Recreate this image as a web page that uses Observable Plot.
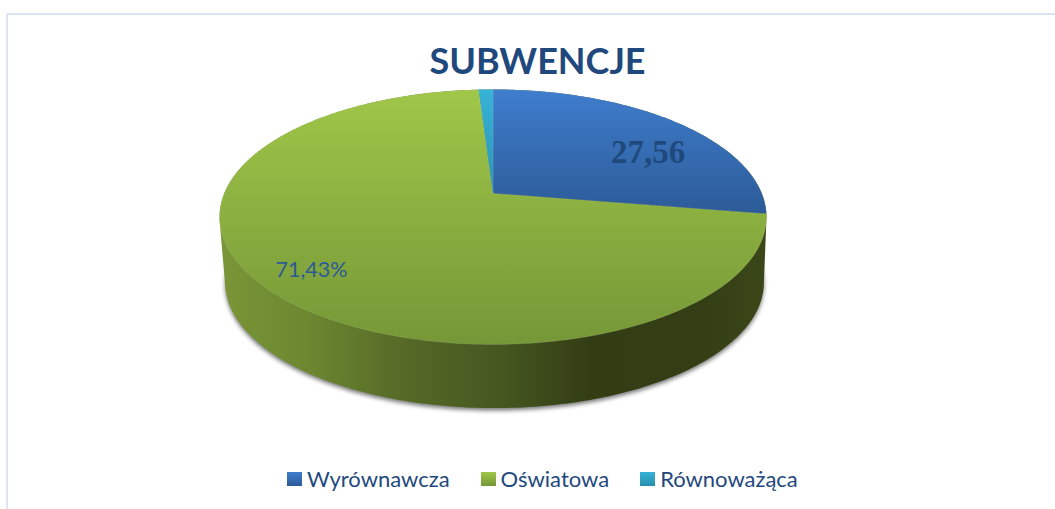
<!DOCTYPE html>
<html lang="pl">
<head>
<meta charset="utf-8">
<title>SUBWENCJE</title>
<script src="https://cdn.jsdelivr.net/npm/d3@7"></script>
<script src="https://cdn.jsdelivr.net/npm/@observablehq/plot@0.6"></script>
<style>
  html, body { margin: 0; padding: 0; background: #fff; overflow: hidden; }
  #page { position: relative; width: 1055px; height: 509px; overflow: hidden; font-family: Lato, sans-serif; color: #1f497d; }
  #frame { position: absolute; left: 6px; top: 13px; width: 1100px; height: 600px; box-sizing: border-box; border-top: 2px solid #dce6f2; border-left: 2px solid #dce6f2; }
  #title { position: relative; box-sizing: border-box; height: 83px; padding: 40px 0 0 20px; text-align: center; font-size: 36px; line-height: 40px; font-weight: 700; }
  #chart { position: relative; height: 340px; }
  #chart svg { display: block; background: transparent; overflow: visible; }
  #legend { position: relative; box-sizing: border-box; height: 86px; padding: 43px 0 0 287px; display: flex; align-items: flex-start; gap: 31px; font-size: 22px; line-height: 26px; }
  .item { display: flex; align-items: center; gap: 5px; }
  .swatch { width: 15px; height: 14px; display: inline-block; }
</style>
</head>
<body>
<div id="page">
  <div id="frame"></div>
  <div id="title"></div>
  <div id="chart"></div>
  <div id="legend"></div>
</div>
<script>
const chartTitle = "SUBWENCJE";
const categories = ["Wyrównawcza", "Oświatowa", "Równoważąca"];
const shares = [27.56, 71.43, 1.01];
const topColors = [["#3f7dcd", "#2c5b97"], ["#a0c749", "#769737"], ["#37b3d8", "#2a93b3"]];
const swatchColors = [["#3f7dcd", "#2c5b97"], ["#a0c749", "#769737"], ["#37b3d8", "#2a8fae"]];
const sideStops = [[0, "#7a9637"], [0.16, "#6c8730"], [0.33, "#566b27"], [0.52, "#45561f"], [0.68, "#323d14"], [0.88, "#333e15"], [1, "#3b4718"]];

// Perspective of the disc, in units of the pie radius
const tilt = 0.184;
const project = (deg, r = 1) => {
  const a = deg * Math.PI / 180, X = r * Math.sin(a), Y = r * Math.cos(a), w = 1 + tilt * Y;
  return {x: X / w, y: Y / w};
};
const discCentreY = -0.1907, wallCentreX = 0.0056, wallCentreY = -0.7224, wallScale = 0.985;
const lower = (p) => ({x: wallCentreX + wallScale * p.x, y: wallCentreY + wallScale * (p.y - discCentreY)});

// Slices from the shares, clockwise from twelve o'clock
let acc = 0;
const slices = shares.map((v, i) => {
  const start = acc / 100 * 360; acc += v; const end = acc / 100 * 360;
  const arc = d3.range(start, end, 1).concat(end).map((d) => project(d));
  return {category: categories[i], i, points: [{x: 0, y: 0}, ...arc, {x: 0, y: 0}]};
});
const rim = d3.range(0, 360, 1).map((d) => project(d));
const wallHull = d3.polygonHull([...rim, ...rim.map(lower)].map((p) => [p.x, p.y])).map(([x, y]) => ({x, y}));
const shadow = rim.map(lower).map((p) => ({x: p.x, y: p.y - 0.02}));

const gradDefs = () => {
  const ns = "http://www.w3.org/2000/svg";
  const defs = document.createElementNS(ns, "defs");
  const make = (id, vertical, stops) => {
    const g = document.createElementNS(ns, "linearGradient");
    g.setAttribute("id", id);
    g.setAttribute("x1", 0); g.setAttribute("y1", 0);
    g.setAttribute("x2", vertical ? 0 : 1); g.setAttribute("y2", vertical ? 1 : 0);
    stops.forEach(([o, c]) => {
      const s = document.createElementNS(ns, "stop");
      s.setAttribute("offset", o); s.setAttribute("stop-color", c);
      g.appendChild(s);
    });
    defs.appendChild(g);
  };
  topColors.forEach((c, i) => make("top" + i, true, [[0, c[0]], [1, c[1]]]));
  make("wall", false, sideStops);
  return defs;
};

const W = 1055, H = 340, unitX = 268.8, unitY = 123.2, apexX = 492.5, apexY = 110;
const sliceMarks = slices.map((s) => Plot.line(s.points, {
  x: "x", y: "y", curve: "linear", fill: `url(#top${s.i})`, stroke: "#fff", strokeOpacity: 0.12, strokeWidth: 0.8
}));

const plot = Plot.plot({
  width: W, height: H, margin: 0,
  x: {domain: [-apexX / unitX, (W - apexX) / unitX], axis: null},
  y: {domain: [(apexY - H) / unitY, apexY / unitY], axis: null},
  marks: [
    gradDefs,
    Plot.line(shadow, {x: "x", y: "y", curve: "linear", fill: "#777", stroke: "none", imageFilter: "blur(2px)"}),
    Plot.line(wallHull, {x: "x", y: "y", curve: "linear", fill: "url(#wall)", stroke: "none"}),
    ...sliceMarks,
    Plot.text(["27,56"], {frameAnchor: "top-left", dx: 647.5, dy: 69, text: (d) => d, textAnchor: "middle", lineAnchor: "middle",
      fontFamily: "'Liberation Serif', serif", fontWeight: 700, fontSize: 33, fill: "#1f497d"}),
    Plot.text(["71,43%"], {frameAnchor: "top-left", dx: 311, dy: 187, text: (d) => d, textAnchor: "middle", lineAnchor: "middle",
      fontFamily: "Lato, sans-serif", fontSize: 21.5, fill: "#2a5a96"})
  ]
});

document.getElementById("title").textContent = chartTitle;
document.getElementById("chart").appendChild(plot);
const legend = document.getElementById("legend");
categories.forEach((c, i) => {
  const item = document.createElement("div"); item.className = "item";
  const sw = document.createElement("span"); sw.className = "swatch";
  sw.style.background = `linear-gradient(${swatchColors[i][0]}, ${swatchColors[i][1]})`;
  const t = document.createElement("span"); t.textContent = c;
  item.append(sw, t); legend.appendChild(item);
});
</script>
</body>
</html>
